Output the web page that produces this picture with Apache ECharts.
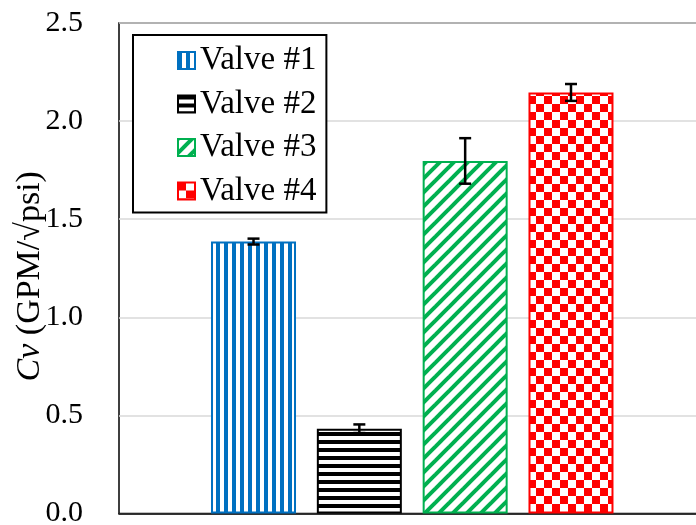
<!DOCTYPE html>
<html>
<head>
<meta charset="utf-8">
<script src="https://cdn.jsdelivr.net/npm/echarts@6/dist/echarts.min.js"></script>
<style>
  html, body { margin: 0; padding: 0; background: #fff; }
  #chart { width: 696px; height: 525px; }
</style>
</head>
<body>
<div id="chart"></div>
<script>
// 数据
var valveNames = ['Valve #1', 'Valve #2', 'Valve #3', 'Valve #4'];
var cvValues   = [1.386, 0.432, 1.797, 2.146];
var cvErrors   = [0.015, 0.022, 0.116, 0.043];
var yTicks     = [0, 0.5, 1.0, 1.5, 2.0, 2.5];

var COLORS = ['#0070C0', '#000000', '#00B050', '#FF0000'];
var FONT = 'Liberation Serif';
var BAR_W = 85, BAR_GAP = 0.245;

// 填充图案
function makeTile(size, draw) {
    var c = document.createElement('canvas');
    c.width = size; c.height = size;
    var ctx = c.getContext('2d');
    ctx.fillStyle = '#fff';
    ctx.fillRect(0, 0, size, size);
    draw(ctx, size);
    return { image: c, repeat: 'repeat' };
}

var patterns = [
    makeTile(8, function(ctx) {           // 竖条
        ctx.fillStyle = COLORS[0];
        ctx.fillRect(0, 0, 4, 8);
    }),
    makeTile(8, function(ctx) {           // 横条
        ctx.fillStyle = COLORS[1];
        ctx.fillRect(0, 0, 8, 4);
    }),
    makeTile(14, function(ctx, s) {       // 斜条
        ctx.strokeStyle = COLORS[2];
        ctx.lineWidth = 4;
        [-s, 0, s].forEach(function(o) {
            ctx.beginPath();
            ctx.moveTo(o - 2, s + 2);
            ctx.lineTo(o + s + 2, -2);
            ctx.stroke();
        });
    }),
    makeTile(16, function(ctx) {          // 棋盘
        ctx.fillStyle = COLORS[3];
        ctx.fillRect(0, 0, 8, 8);
        ctx.fillRect(8, 8, 8, 8);
    })
];

var series = [];
for (var i = 0; i < valveNames.length; i++) {
    series.push({
        name: valveNames[i],
        type: 'bar',
        barWidth: BAR_W,
        barGap: (BAR_GAP * 100) + '%',
        itemStyle: { color: patterns[i], borderColor: COLORS[i], borderWidth: 2 },
        emphasis: { disabled: true },
        data: [cvValues[i]]
    });
}

// 误差线
var errData = cvValues.map(function(v, i) { return [0, v, cvErrors[i], i]; });
series.push({
    type: 'custom',
    name: 'err',
    z: 10,
    renderItem: function(params, api) {
        var idx = api.value(3), v = api.value(1), e = api.value(2);
        var step = BAR_W * (1 + BAR_GAP);
        var top = api.coord([0, v + e]), bot = api.coord([0, v - e]);
        var x = top[0] + (idx - 1.5) * step;
        var st = { stroke: '#000', lineWidth: 2.5 };
        return {
            type: 'group',
            children: [
                { type: 'line', shape: { x1: x, y1: top[1], x2: x, y2: bot[1] }, style: st },
                { type: 'line', shape: { x1: x - 6, y1: top[1], x2: x + 6, y2: top[1] }, style: st },
                { type: 'line', shape: { x1: x - 6, y1: bot[1], x2: x + 6, y2: bot[1] }, style: st }
            ]
        };
    },
    data: errData
});

var chart = echarts.init(document.getElementById('chart'));
chart.setOption({
    animation: false,
    textStyle: { fontFamily: FONT },
    grid: {
        left: 119, top: 23, width: 586.5, bottom: 11.5,
        outerBoundsMode: 'none', containLabel: false,
        show: true, borderColor: '#000', borderWidth: 1.5, backgroundColor: 'transparent'
    },
    legend: {
        data: valveNames,
        orient: 'vertical',
        left: 133, top: 35,
        padding: [9, 10, 5, 44],
        itemGap: 10.5,
        itemWidth: 17, itemHeight: 17,
        icon: 'rect',
        borderColor: '#000', borderWidth: 2,
        backgroundColor: '#fff',
        textStyle: { fontFamily: FONT, fontSize: 33, color: '#000', lineHeight: 30, padding: [0, 0, 0, 0] }
    },
    xAxis: {
        type: 'category',
        data: [''],
        axisLine: { lineStyle: { color: '#000', width: 1.5 } },
        axisTick: { show: false },
        axisLabel: { show: false }
    },
    yAxis: {
        type: 'value',
        min: yTicks[0], max: yTicks[yTicks.length - 1], interval: 0.5,
        name: '{i|Cv} (GPM/√psi)',
        nameLocation: 'middle',
        nameRotate: 90,
        nameGap: 72,
        nameMoveOverlap: false,
        nameTextStyle: {
            fontFamily: FONT, fontSize: 34, color: '#000', padding: [0, 16, 0, 0],
            rich: { i: { fontFamily: FONT, fontSize: 34, fontStyle: 'italic', color: '#000' } }
        },
        axisLine: { show: false },
        axisTick: { show: false },
        axisLabel: {
            margin: 36, fontFamily: FONT, fontSize: 30, color: '#000',
            formatter: function(v) { return v.toFixed(1); }
        },
        splitLine: { lineStyle: { color: '#D9D9D9', width: 1.5 } }
    },
    series: series
});
</script>
</body>
</html>
